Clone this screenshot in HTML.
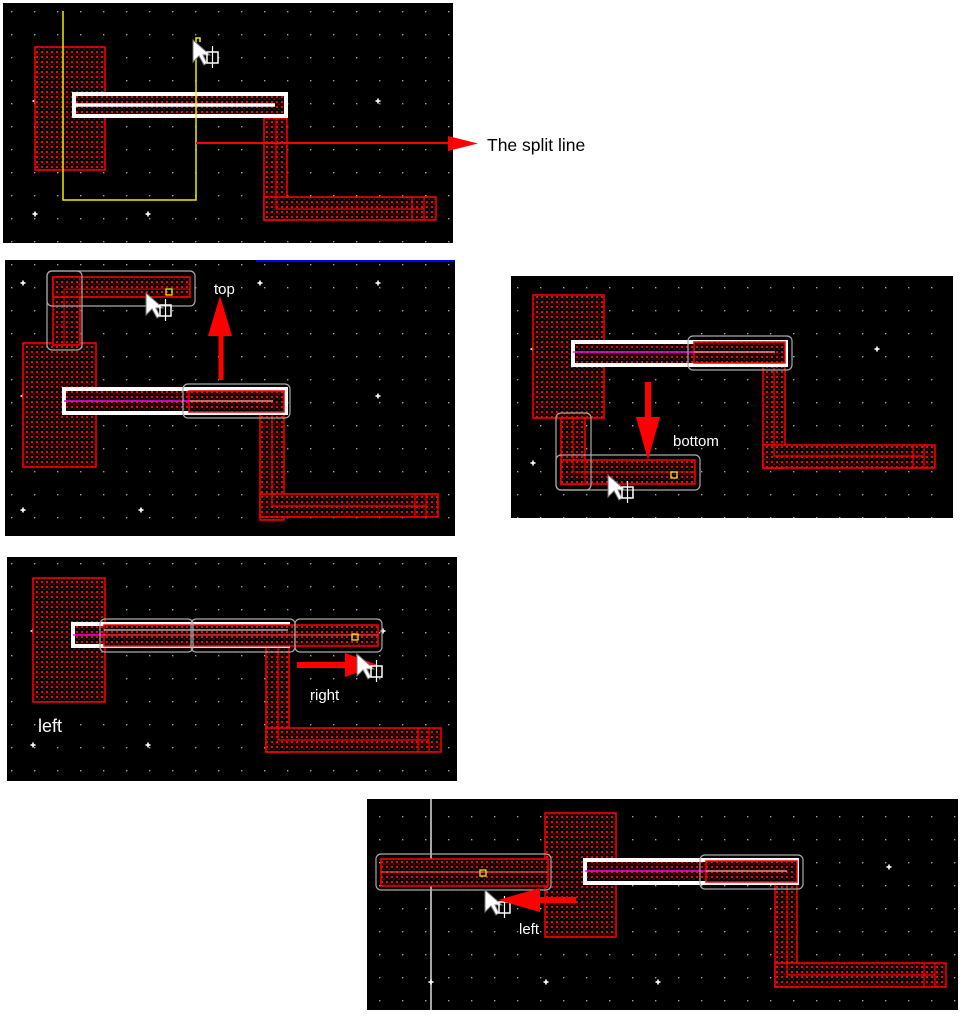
<!DOCTYPE html>
<html><head><meta charset="utf-8"><style>html,body{margin:0;padding:0;background:#fff}svg{display:block}</style></head>
<body>
<svg width="963" height="1021" viewBox="0 0 963 1021" xmlns="http://www.w3.org/2000/svg" font-family="Liberation Sans, sans-serif">
<defs>
<pattern id="g" width="23" height="23" patternUnits="userSpaceOnUse"><rect x="11" y="11" width="1.4" height="1.4" fill="#a0a0a0"/></pattern>
<pattern id="h" width="5" height="5" patternUnits="userSpaceOnUse"><rect width="5" height="5" fill="#000"/><rect x="1" y="1" width="2" height="2" fill="#f00"/><rect x="3.5" y="3.5" width="1.3" height="1.3" fill="#b00"/></pattern>
<g id="cur"><polygon points="0,0 0,22 6,16 11,25 14,23 10,15 17,15" fill="#fff" stroke="#777" stroke-width="1"/><rect x="14" y="12" width="11" height="11" fill="none" stroke="#fff" stroke-width="1.5"/><line x1="19.5" y1="6" x2="19.5" y2="28" stroke="#fff" stroke-width="1.2"/></g>
<g id="x"><rect x="-2.5" y="-0.8" width="5" height="1.6" fill="#fff"/><rect x="-0.8" y="-2.5" width="1.6" height="5" fill="#fff"/></g>
</defs>
<rect width="963" height="1021" fill="#fff"/>

<!-- Panel 1 -->
<rect x="3" y="3" width="450" height="240" fill="#000"/>
<rect x="3" y="3" width="450" height="240" fill="url(#g)"/>
<use href="#x" x="35" y="101"/><use href="#x" x="148" y="101"/><use href="#x" x="378" y="101"/><use href="#x" x="35" y="214"/><use href="#x" x="148" y="214"/><use href="#x" x="378" y="214"/>
<rect x="35" y="47" width="70" height="123" fill="url(#h)" stroke="#f00" stroke-width="1.5"/>
<rect x="264" y="118" width="23" height="102" fill="url(#h)" stroke="#f00" stroke-width="1.5"/>
<rect x="264" y="197" width="172" height="23" fill="url(#h)" stroke="#f00" stroke-width="1.5"/>
<path d="M276 118 V209 H424 M412 197 V220 M424 197 V220" fill="none" stroke="#f00" stroke-width="1.2"/>
<rect x="74" y="94" width="212" height="22" fill="url(#h)" stroke="#fff" stroke-width="4"/>
<line x1="76" y1="105" x2="275" y2="105" stroke="#fff" stroke-width="3.5"/>
<path d="M63 11 V200 H196 V38 H200 V42" fill="none" stroke="#ee0" stroke-width="1.5"/>
<line x1="196" y1="143" x2="452" y2="143" stroke="#f00" stroke-width="2"/>
<polygon points="448,136 478,143.5 448,151" fill="#f00"/>
<use href="#cur" x="193" y="40"/>
<text x="487" y="151" font-size="17.5" fill="#000">The split line</text>

<!-- Panel 2 -->
<rect x="5" y="260" width="450" height="276" fill="#000"/>
<rect x="5" y="260" width="450" height="276" fill="url(#g)"/>
<line x1="256" y1="261" x2="455" y2="261" stroke="#00f" stroke-width="2"/>
<use href="#x" x="23" y="283"/><use href="#x" x="141" y="283"/><use href="#x" x="260" y="283"/><use href="#x" x="378" y="283"/><use href="#x" x="23" y="396"/><use href="#x" x="141" y="396"/><use href="#x" x="378" y="396"/><use href="#x" x="23" y="510"/><use href="#x" x="141" y="510"/><use href="#x" x="378" y="510"/>
<rect x="23" y="343" width="73" height="124" fill="url(#h)" stroke="#f00" stroke-width="1.5"/>
<rect x="53" y="277" width="27" height="68" fill="url(#h)" stroke="#f00" stroke-width="1.5"/>
<rect x="53" y="277" width="137" height="20" fill="url(#h)" stroke="#f00" stroke-width="1.5"/>
<path d="M64 345 V289 H190 M80 277 V297" fill="none" stroke="#f00" stroke-width="1"/>
<rect x="47" y="271" width="148" height="35" rx="5" fill="none" stroke="#aaa" stroke-width="1.2"/>
<rect x="47" y="271" width="35" height="79" rx="5" fill="none" stroke="#aaa" stroke-width="1.2"/>
<rect x="166" y="289" width="6" height="6" fill="none" stroke="#ee0" stroke-width="1.3"/>
<use href="#cur" x="146" y="293"/>
<rect x="260" y="412" width="24" height="108" fill="url(#h)" stroke="#f00" stroke-width="1.5"/>
<rect x="260" y="494" width="178" height="23" fill="url(#h)" stroke="#f00" stroke-width="1.5"/>
<path d="M272 412 V506 H426 M415 494 V517 M426 494 V517" fill="none" stroke="#f00" stroke-width="1.2"/>
<rect x="64" y="389" width="222" height="24" fill="url(#h)" stroke="#fff" stroke-width="4"/>
<rect x="189" y="391" width="95" height="21" fill="url(#h)" stroke="#f00" stroke-width="1.5"/>
<line x1="64" y1="401" x2="190" y2="401" stroke="#f0f" stroke-width="1.5"/>
<line x1="190" y1="401" x2="273" y2="401" stroke="#f88" stroke-width="1.5"/>
<rect x="183" y="384" width="107" height="34" rx="5" fill="none" stroke="#aaa" stroke-width="1.2"/>
<line x1="221" y1="380" x2="221" y2="334" stroke="#f00" stroke-width="5"/>
<polygon points="208,336 220,296 232,336" fill="#f00"/>
<text x="214" y="294" font-size="15" fill="#fff">top</text>

<!-- Panel 3 -->
<rect x="511" y="276" width="442" height="242" fill="#000"/>
<rect x="511" y="276" width="442" height="242" fill="url(#g)"/>
<use href="#x" x="533" y="349"/><use href="#x" x="648" y="349"/><use href="#x" x="877" y="349"/><use href="#x" x="533" y="463"/><use href="#x" x="877" y="463"/>
<rect x="533" y="295" width="71" height="123" fill="url(#h)" stroke="#f00" stroke-width="1.5"/>
<rect x="763" y="366" width="22" height="102" fill="url(#h)" stroke="#f00" stroke-width="1.5"/>
<rect x="763" y="445" width="172" height="23" fill="url(#h)" stroke="#f00" stroke-width="1.5"/>
<path d="M774 366 V456 H924 M913 445 V468 M924 445 V468" fill="none" stroke="#f00" stroke-width="1.2"/>
<rect x="573" y="342" width="213" height="23" fill="url(#h)" stroke="#fff" stroke-width="4"/>
<rect x="694" y="342" width="91" height="21" fill="url(#h)" stroke="#f00" stroke-width="1.5"/>
<line x1="573" y1="352" x2="694" y2="352" stroke="#f0f" stroke-width="1.5"/>
<line x1="694" y1="352" x2="775" y2="352" stroke="#f88" stroke-width="1.5"/>
<rect x="688" y="336" width="104" height="34" rx="5" fill="none" stroke="#aaa" stroke-width="1.2"/>
<rect x="561" y="418" width="24" height="66" fill="url(#h)" stroke="#f00" stroke-width="1.5"/>
<rect x="561" y="460" width="134" height="24" fill="url(#h)" stroke="#f00" stroke-width="1.5"/>
<path d="M573 418 V472 H695 M585 460 V484" fill="none" stroke="#f00" stroke-width="1"/>
<rect x="556" y="413" width="35" height="77" rx="5" fill="none" stroke="#aaa" stroke-width="1.2"/>
<rect x="556" y="455" width="144" height="35" rx="5" fill="none" stroke="#aaa" stroke-width="1.2"/>
<rect x="671" y="472" width="6" height="6" fill="none" stroke="#ee0" stroke-width="1.3"/>
<line x1="648" y1="382" x2="648" y2="420" stroke="#f00" stroke-width="6"/>
<polygon points="636,417 660,417 648,460" fill="#f00"/>
<text x="673" y="446" font-size="15" fill="#fff">bottom</text>
<use href="#cur" x="608" y="475"/>

<!-- Panel 4 -->
<rect x="7" y="557" width="450" height="224" fill="#000"/>
<rect x="7" y="557" width="450" height="224" fill="url(#g)"/>
<use href="#x" x="33" y="631"/><use href="#x" x="33" y="745"/><use href="#x" x="148" y="745"/><use href="#x" x="383" y="745"/><use href="#x" x="383" y="631"/>
<rect x="33" y="578" width="72" height="124" fill="url(#h)" stroke="#f00" stroke-width="1.5"/>
<rect x="266" y="646" width="23" height="106" fill="url(#h)" stroke="#f00" stroke-width="1.5"/>
<rect x="266" y="728" width="175" height="24" fill="url(#h)" stroke="#f00" stroke-width="1.5"/>
<path d="M278 646 V740 H429 M418 728 V752 M429 728 V752" fill="none" stroke="#f00" stroke-width="1.2"/>
<rect x="73" y="624" width="215" height="22" fill="url(#h)" stroke="#fff" stroke-width="4"/>
<rect x="104" y="625" width="274" height="21" fill="url(#h)" stroke="#f00" stroke-width="1.5"/>
<line x1="73" y1="635" x2="104" y2="635" stroke="#f0f" stroke-width="1.5"/>
<line x1="104" y1="635" x2="378" y2="635" stroke="#f44" stroke-width="1.2"/>
<line x1="104" y1="630" x2="288" y2="630" stroke="#fff" stroke-width="1"/>
<rect x="100" y="619" width="93" height="33" rx="5" fill="none" stroke="#aaa" stroke-width="1.2"/>
<rect x="191" y="619" width="104" height="33" rx="5" fill="none" stroke="#aaa" stroke-width="1.2"/>
<rect x="295" y="619" width="87" height="33" rx="5" fill="none" stroke="#aaa" stroke-width="1.2"/>
<rect x="352" y="634" width="6" height="6" fill="none" stroke="#ee0" stroke-width="1.3"/>
<line x1="297" y1="665" x2="348" y2="665" stroke="#f00" stroke-width="6"/>
<polygon points="345,653 378,665 345,677" fill="#f00"/>
<use href="#cur" x="357" y="654"/>
<text x="310" y="700" font-size="15" fill="#fff">right</text>
<text x="38" y="732" font-size="18" fill="#fff">left</text>

<!-- Panel 5 -->
<rect x="367" y="799" width="591" height="211" fill="#000"/>
<rect x="367" y="799" width="591" height="211" fill="url(#g)"/>
<line x1="431" y1="799" x2="431" y2="1010" stroke="#ddd" stroke-width="1.5"/>
<use href="#x" x="431" y="867"/><use href="#x" x="658" y="867"/><use href="#x" x="889" y="867"/><use href="#x" x="546" y="982"/><use href="#x" x="658" y="982"/><use href="#x" x="889" y="982"/><use href="#x" x="431" y="982"/>
<rect x="545" y="813" width="71" height="124" fill="url(#h)" stroke="#f00" stroke-width="1.5"/>
<rect x="381" y="859" width="167" height="27" fill="url(#h)" stroke="#f00" stroke-width="1.5"/>
<line x1="381" y1="872" x2="548" y2="872" stroke="#f44" stroke-width="1.2"/>
<rect x="376" y="854" width="175" height="36" rx="5" fill="none" stroke="#aaa" stroke-width="1.2"/>
<rect x="480" y="870" width="6" height="6" fill="none" stroke="#ee0" stroke-width="1.3"/>
<rect x="775" y="884" width="22" height="103" fill="url(#h)" stroke="#f00" stroke-width="1.5"/>
<rect x="775" y="963" width="171" height="24" fill="url(#h)" stroke="#f00" stroke-width="1.5"/>
<path d="M787 884 V975 H935 M924 963 V987 M935 963 V987" fill="none" stroke="#f00" stroke-width="1.2"/>
<rect x="585" y="860" width="212" height="23" fill="url(#h)" stroke="#fff" stroke-width="4"/>
<rect x="706" y="861" width="91" height="21" fill="url(#h)" stroke="#f00" stroke-width="1.5"/>
<line x1="585" y1="871" x2="706" y2="871" stroke="#f0f" stroke-width="1.5"/>
<line x1="706" y1="871" x2="787" y2="871" stroke="#f88" stroke-width="1.5"/>
<rect x="700" y="855" width="103" height="34" rx="5" fill="none" stroke="#aaa" stroke-width="1.2"/>
<use href="#cur" x="485" y="890"/>
<line x1="576" y1="900" x2="536" y2="900" stroke="#f00" stroke-width="6"/>
<polygon points="540,888 498,900 540,912" fill="#f00"/>
<text x="519" y="934" font-size="15" fill="#fff">left</text>
</svg>
</body></html>
